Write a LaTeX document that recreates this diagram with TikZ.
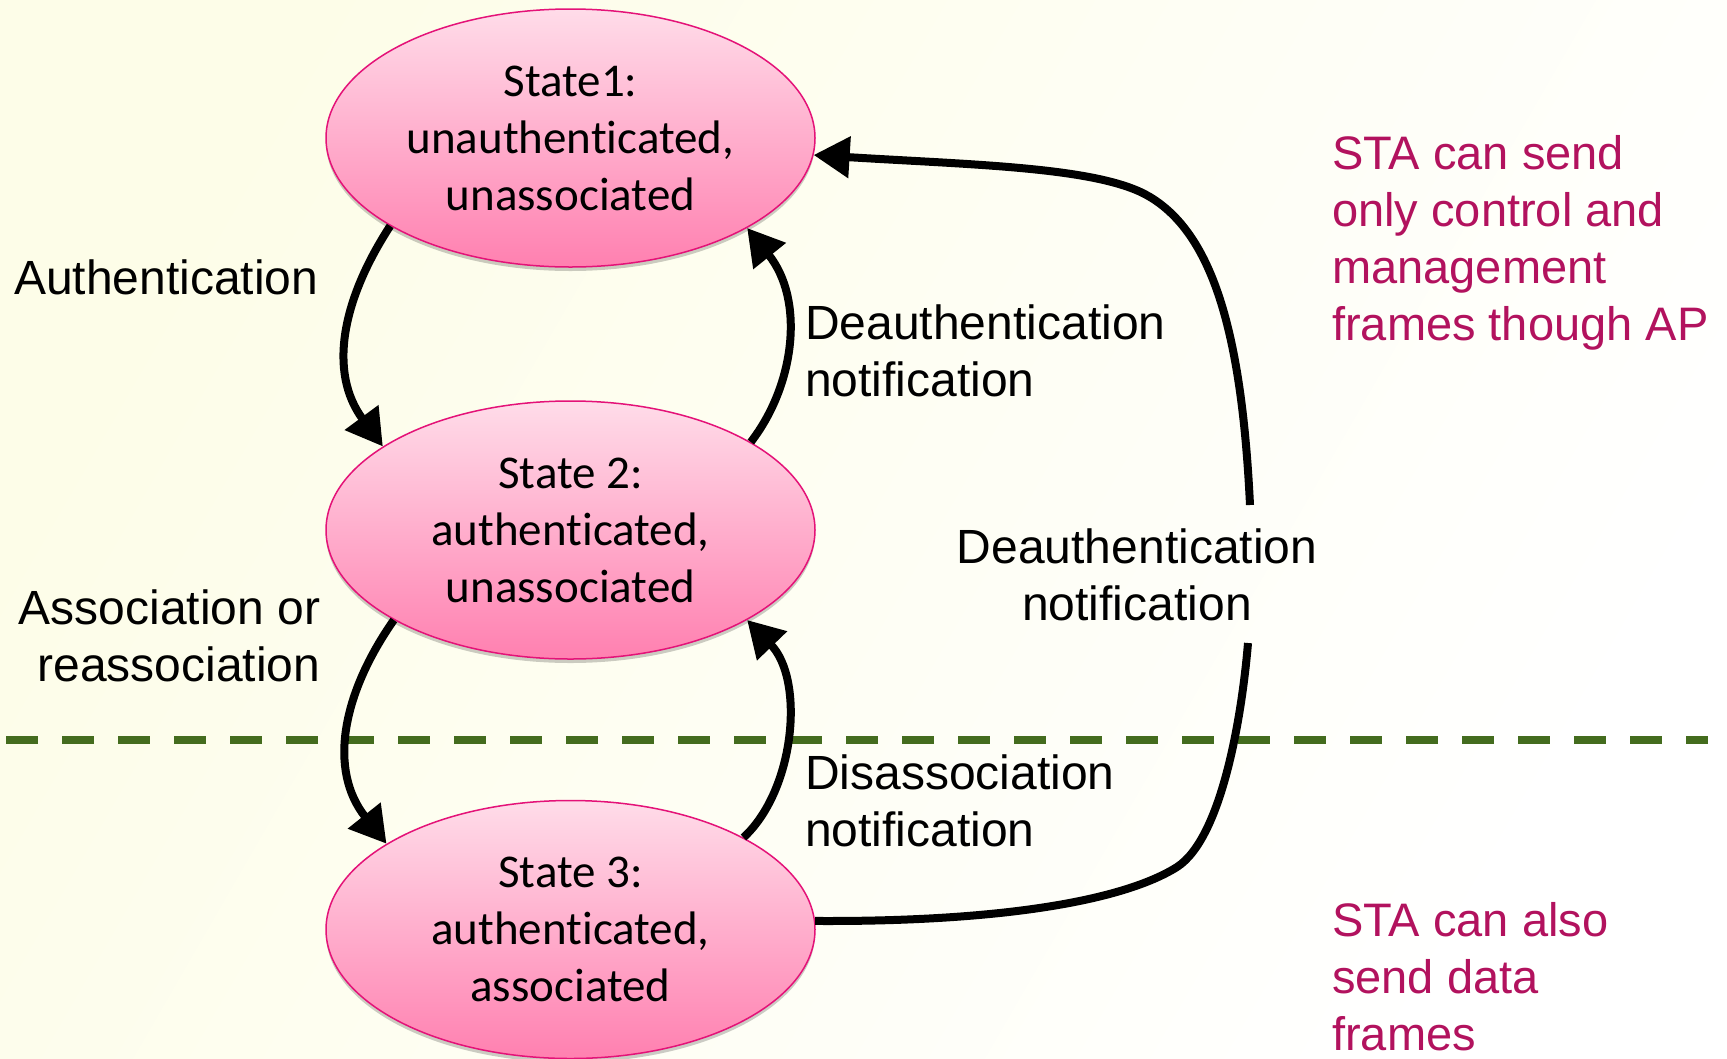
\documentclass[tikz,border=0pt]{standalone}
\usepackage{fontspec}
\setmainfont{Liberation Sans}
\newfontfamily\calibri[Ligatures={NoCommon,NoContextual}]{Carlito}
\usetikzlibrary{arrows.meta,shapes.geometric,shadows}

\definecolor{bgYellow}{RGB}{253,253,232}
\definecolor{stateTop}{RGB}{255,220,233}
\definecolor{stateBot}{RGB}{255,128,176}
\definecolor{stateLine}{RGB}{228,18,120}
\definecolor{noteText}{RGB}{178,18,94}
\definecolor{divider}{RGB}{68,108,30}

\begin{document}
\begin{tikzpicture}[x=1pt,y=-1pt,
  stateNode/.style={ellipse, draw=stateLine, line width=1.5pt,
    top color=stateTop, bottom color=stateBot,
    minimum width=489pt, minimum height=258pt, inner sep=0pt, align=center,
    font=\calibri\fontsize{47}{57}\selectfont,
    drop shadow={shadow xshift=0pt, shadow yshift=-4pt, opacity=0.2, fill=black}},
  edgeLabel/.style={inner sep=0pt, font=\fontsize{48}{57}\selectfont},
  noteLabel/.style={inner sep=0pt, align=left, text=noteText, font=\fontsize{47}{57}\selectfont},
  edgeArrow/.style={line width=8pt, -{Triangle[length=36pt,width=40pt]}},
  edgeLine/.style={line width=8pt},
]
\useasboundingbox (0,0) rectangle (1727,1058);

% background
\shade[top color=bgYellow, bottom color=white, shading angle=60] (0,0) rectangle (1727,1058);

% divider between the two frame regimes
\coordinate (divL) at (6,740);
\coordinate (divR) at (1708,740);
\draw[divider, line width=8pt, dash pattern=on 32pt off 24pt] (divL) -- (divR);

% states
\node[stateNode] (s1) at (570.5,138) {State1:\\unauthenticated,\\unassociated};
\node[stateNode] (s2) at (570.5,530) {State 2:\\authenticated,\\unassociated};
\node[stateNode] (s3) at (570.5,929.5) {State 3:\\authenticated,\\associated};

% transition labels
\node[edgeLabel, anchor=north west] (authLbl) at (14,260) {Authentication};
\node[edgeLabel, anchor=north east, align=right] (assocLbl) at (320.5,590) {Association or\\reassociation};
\node[edgeLabel, anchor=north west, align=left] (deauthLbl) at (805,305) {Deauthentication\\notification};
\node[edgeLabel, anchor=north, align=center] (deauthFarLbl) at (1137,529) {Deauthentication\\notification};
\node[edgeLabel, anchor=north west, align=left] (disLbl) at (805,755) {Disassociation\\notification};

% side notes
\node[noteLabel, anchor=north west] (note1) at (1332,135) {STA can send\\only control and\\management\\frames though AP};
\node[noteLabel, anchor=north west] (note2) at (1332,902) {STA can also\\send data\\frames};

% transitions
\draw[edgeArrow] (s1.206.5) .. controls (342,300) and (328,372) .. (s2.156);
\draw[edgeArrow] (s2.207) .. controls (342,694) and (328,770) .. (s3.155);
\draw[edgeArrow] (s2.26) .. controls (795,385) and (805,300) .. (s1.-27.5);
\draw[edgeArrow] (s3.28.6) .. controls (795,790) and (805,680) .. (s2.-27.6);

% long deauthentication path, interrupted by its label
\coordinate (gapLow) at (1248,643);
\coordinate (gapHigh) at (1250,505);
\draw[edgeLine] (s3.2) .. controls (1000,922) and (1123,901) .. (1177,867)
  .. controls (1222,838) and (1242,715) .. (gapLow);
\draw[edgeArrow] (gapHigh) .. controls (1242,340) and (1215,236) .. (1150,197)
  .. controls (1101,167) and (975,165) .. (s1.-4.5);
\end{tikzpicture}
\end{document}
